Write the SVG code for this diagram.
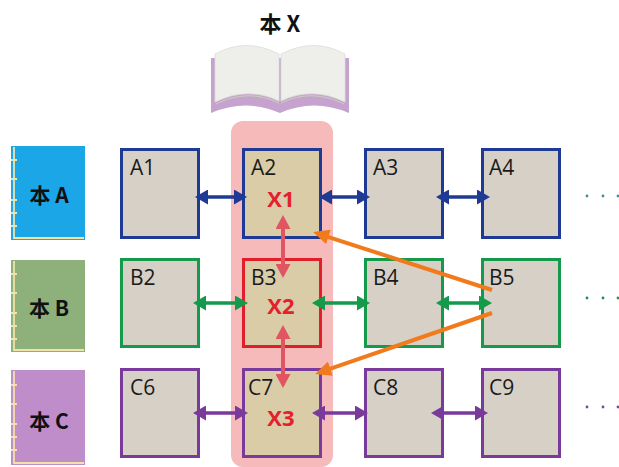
<svg xmlns="http://www.w3.org/2000/svg" width="619" height="467" viewBox="0 0 619 467">
  <style>
    .lbl { font-family: "Open Sans", "Noto Sans", sans-serif; font-size: 21px; fill: #1a1a1a; }
    .x { font-family: "Open Sans", "Noto Sans", sans-serif; font-size: 22px; font-weight: bold; fill: #e3202b; text-anchor: middle; }
    .bk { font-family: "Noto Sans CJK SC", "Noto Sans", sans-serif; font-size: 21px; font-weight: bold; fill: #111; text-anchor: middle; }
    .cell { fill: #d6d0c7; stroke-width: 3; }
    .mid { fill: #d9cca7; }
    .blue { stroke: #1f3a94; }
    .green { stroke: #15994a; }
    .purple { stroke: #7a3a9c; }
    .red { stroke: #e11f2a; }
    .spine { stroke: #f1e2a8; stroke-width: 1.8; fill: none; }
    .h { stroke-width: 3.5; fill: none; }
  </style>
  <defs>
    <marker id="ah-blue" markerUnits="userSpaceOnUse" markerWidth="13" markerHeight="15" viewBox="0 0 13 15" refX="9" refY="7.5" orient="auto-start-reverse">
      <path d="M0,0 L13,7.5 L0,15 z" fill="#1f3a94"/>
    </marker>
    <marker id="ah-green" markerUnits="userSpaceOnUse" markerWidth="13" markerHeight="15" viewBox="0 0 13 15" refX="9" refY="7.5" orient="auto-start-reverse">
      <path d="M0,0 L13,7.5 L0,15 z" fill="#15994a"/>
    </marker>
    <marker id="ah-purple" markerUnits="userSpaceOnUse" markerWidth="13" markerHeight="15" viewBox="0 0 13 15" refX="9" refY="7.5" orient="auto-start-reverse">
      <path d="M0,0 L13,7.5 L0,15 z" fill="#7a3a9c"/>
    </marker>
    <marker id="ah-rose" markerUnits="userSpaceOnUse" markerWidth="14" markerHeight="15" viewBox="0 0 14 15" refX="10" refY="7.5" orient="auto-start-reverse">
      <path d="M0,0 L14,7.5 L0,15 z" fill="#e05561"/>
    </marker>
    <marker id="ah-orange" markerUnits="userSpaceOnUse" markerWidth="16" markerHeight="15" viewBox="0 0 16 15" refX="12" refY="7.5" orient="auto">
      <path d="M0,0 L16,7.5 L0,15 z" fill="#f07a1c"/>
    </marker>
  </defs>

  <rect width="619" height="467" fill="#ffffff"/>

  <!-- highlighted column -->
  <rect id="column-x" x="231" y="121" width="102" height="346" rx="12" fill="#f6baba"/>

  <!-- book X (open) -->
  <g id="book-x">
    <text class="bk" x="280" y="32" style="font-size:22px">本 X</text>
    <path d="M211,58 L211,113 Q246,98 280,113 Q314,98 349,113 L349,58 Z" fill="#c6a2cf"/>
    <path d="M216,104 Q248,88 279,103" stroke="#c9d1b9" stroke-width="1" fill="none"/>
    <path d="M344,104 Q312,88 281,103" stroke="#c9d1b9" stroke-width="1" fill="none"/>
    <path d="M215,54 Q246,37 279,54 L279,101 Q248,86 215,102 Z" fill="#eeeeeb" stroke="#dcdcd6" stroke-width="0.8"/>
    <path d="M345,54 Q314,37 281,54 L281,101 Q312,86 345,102 Z" fill="#eeeeeb" stroke="#dcdcd6" stroke-width="0.8"/>
  </g>

  <!-- side books -->
  <g id="book-a">
    <rect x="11" y="146" width="74" height="94" fill="#1ba6e8"/>
    <path class="spine" d="M14,147 V238 H84 M11,160 H17 M11,179 H17 M11,200 H17 M11,213 H17 M11,226 H17"/>
    <text class="bk" x="49" y="203">本 A</text>
  </g>
  <g id="book-b">
    <rect x="11" y="260" width="74" height="92" fill="#8eb17b"/>
    <path class="spine" d="M14,261 V350 H84 M11,274 H17 M11,293 H17 M11,313 H17 M11,326 H17 M11,339 H17"/>
    <text class="bk" x="49" y="316">本 B</text>
  </g>
  <g id="book-c">
    <rect x="11" y="370" width="74" height="95" fill="#c08dcb"/>
    <path class="spine" d="M14,371 V463 H84 M11,385 H17 M11,404 H17 M11,424 H17 M11,437 H17 M11,450 H17"/>
    <text class="bk" x="49" y="429">本 C</text>
  </g>

  <!-- row A -->
  <g id="a1"><rect class="cell blue" x="121.5" y="149.5" width="77" height="88"/><text class="lbl" x="130" y="175">A1</text></g>
  <g id="a2"><rect class="cell mid blue" x="243.5" y="149.5" width="77" height="88"/><text class="lbl" x="251" y="175">A2</text><text class="x" x="281" y="207">X1</text></g>
  <g id="a3"><rect class="cell blue" x="365.5" y="149.5" width="77" height="88"/><text class="lbl" x="373" y="175">A3</text></g>
  <g id="a4"><rect class="cell blue" x="482.5" y="149.5" width="77" height="88"/><text class="lbl" x="489" y="175">A4</text></g>

  <!-- row B -->
  <g id="b2"><rect class="cell green" x="121.5" y="259.5" width="77" height="87"/><text class="lbl" x="130" y="285">B2</text></g>
  <g id="b3"><rect class="cell mid red" x="243.5" y="259.5" width="77" height="87"/><text class="lbl" x="251" y="285">B3</text><text class="x" x="281" y="314">X2</text></g>
  <g id="b4"><rect class="cell green" x="365.5" y="259.5" width="77" height="87"/><text class="lbl" x="373" y="285">B4</text></g>
  <g id="b5"><rect class="cell green" x="482.5" y="259.5" width="77" height="87"/><text class="lbl" x="489" y="285">B5</text></g>

  <!-- row C -->
  <g id="c6"><rect class="cell purple" x="121.5" y="369.5" width="77" height="87"/><text class="lbl" x="130" y="395">C6</text></g>
  <g id="c7"><rect class="cell mid purple" x="243.5" y="369.5" width="77" height="87"/><text class="lbl" x="248" y="395">C7</text><text class="x" x="281" y="426">X3</text></g>
  <g id="c8"><rect class="cell purple" x="365.5" y="369.5" width="77" height="87"/><text class="lbl" x="373" y="395">C8</text></g>
  <g id="c9"><rect class="cell purple" x="482.5" y="369.5" width="77" height="87"/><text class="lbl" x="489" y="395">C9</text></g>

  <!-- continuation dots -->
  <g id="more">
    <g fill="#3f8f9a"><circle cx="587" cy="196" r="1.4"/><circle cx="603" cy="196" r="1.4"/><circle cx="618" cy="196" r="1.4"/></g>
    <g fill="#2f8a50"><circle cx="587" cy="298" r="1.4"/><circle cx="603" cy="298" r="1.4"/><circle cx="618" cy="298" r="1.4"/></g>
    <g fill="#7a4a98"><circle cx="587" cy="407" r="1.4"/><circle cx="603" cy="407" r="1.4"/><circle cx="618" cy="407" r="1.4"/></g>
  </g>

  <!-- connectors -->
  <g id="connectors">
    <g class="h" stroke="#1f3a94" marker-start="url(#ah-blue)" marker-end="url(#ah-blue)">
      <line x1="199" y1="197" x2="243" y2="197"/>
      <line x1="323" y1="197" x2="366" y2="197"/>
      <line x1="440" y1="197" x2="486" y2="197"/>
    </g>
    <g class="h" stroke="#15994a" marker-start="url(#ah-green)" marker-end="url(#ah-green)">
      <line x1="197" y1="303" x2="244" y2="303"/>
      <line x1="316" y1="303" x2="366" y2="303"/>
      <line x1="440" y1="303" x2="488" y2="303"/>
    </g>
    <g class="h" stroke="#7a3a9c" marker-start="url(#ah-purple)" marker-end="url(#ah-purple)">
      <line x1="197" y1="413" x2="244" y2="413"/>
      <line x1="316" y1="413" x2="364" y2="413"/>
      <line x1="435" y1="413" x2="484" y2="413"/>
    </g>
    <g stroke="#e05561" stroke-width="4" fill="none" marker-start="url(#ah-rose)" marker-end="url(#ah-rose)">
      <line x1="283" y1="219" x2="283" y2="274"/>
      <line x1="283" y1="329" x2="283" y2="384"/>
    </g>
    <g stroke="#f07a1c" stroke-width="4" fill="none" marker-end="url(#ah-orange)">
      <line x1="492" y1="290" x2="317" y2="233.3"/>
      <line x1="492" y1="313" x2="319" y2="372.6"/>
    </g>
  </g>
</svg>
